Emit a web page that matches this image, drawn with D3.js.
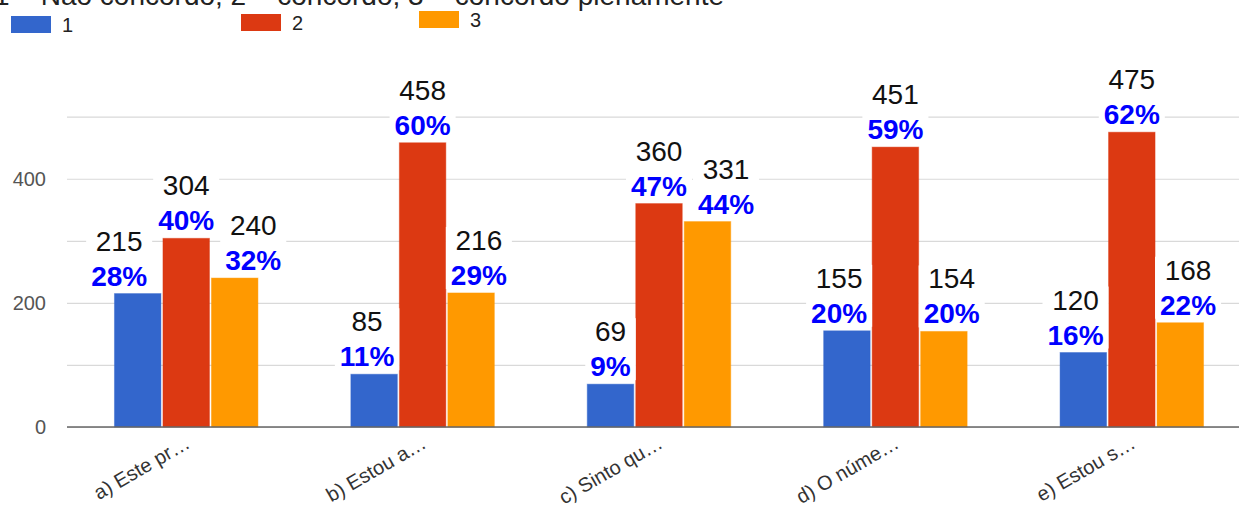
<!DOCTYPE html>
<html><head><meta charset="utf-8">
<script src="https://cdn.jsdelivr.net/npm/d3@7"></script>
<style>
body{margin:0;background:#fff;overflow:hidden;}
svg{display:block;font-family:Arial,'Liberation Sans',sans-serif;}
</style>
</head><body>
<svg id="c" width="1239" height="506"></svg>
<script>
// ---- data ----
const categories = ["a) Este pr…", "b) Estou a…", "c) Sinto qu…", "d) O núme…", "e) Estou s…"];
const seriesNames = ["1", "2", "3"];
const series1 = [215, 85, 69, 155, 120];
const series2 = [304, 458, 360, 451, 475];
const series3 = [240, 216, 331, 154, 168];
const pct1 = ["28%", "11%", "9%", "20%", "16%"];
const pct2 = ["40%", "60%", "47%", "59%", "62%"];
const pct3 = ["32%", "29%", "44%", "20%", "22%"];
const yTickLabels = [0, 200, 400];
const gridTicks = [0, 100, 200, 300, 400, 500];
const colors = ["#3366cc", "#dc3912", "#ff9900"];
const titleText = "1 – Não concordo; 2 – concordo; 3 – concordo plenamente";

const values = [series1, series2, series3];
const pcts = [pct1, pct2, pct3];

// ---- layout ----
const plotLeft = 67, plotRight = 1250, baseY = 427, topY = 116.7;
const svg = d3.select("#c");

const x0 = d3.scaleBand().domain(categories).range([68, 1250]).paddingInner(0).paddingOuter(0);
const x1 = d3.scaleBand().domain(seriesNames).range([0, x0.bandwidth()]).paddingInner(0.0412).paddingOuter(0.958);
const y = d3.scaleLinear().domain([0, 500]).range([baseY, topY]);

// title (clipped at top like the reference)
svg.append("text").attr("x", -6).attr("y", 5).attr("font-size", 28).attr("fill", "#222").text(titleText);

// legend
const legendPos = [[11, 16], [241, 14], [419, 11]];
seriesNames.forEach((s, k) => {
  const g = svg.append("g").attr("transform", `translate(${legendPos[k][0]},${legendPos[k][1]})`);
  g.append("rect").attr("width", 40).attr("height", 17).attr("fill", colors[k]);
  g.append("text").attr("x", 51).attr("y", 16).attr("font-size", 20).attr("fill", "#222").text(s);
});

// gridlines
const grid = svg.append("g").attr("transform", `translate(${plotLeft},0)`)
  .call(d3.axisLeft(y).tickValues(gridTicks).tickSize(-(plotRight - plotLeft)).tickFormat(""));
grid.select(".domain").remove();
grid.selectAll("line").attr("stroke", "#d9d9d9").attr("stroke-width", 1.2);

// y tick labels
const yAxis = svg.append("g").attr("transform", `translate(${plotLeft},0)`)
  .call(d3.axisLeft(y).tickValues(yTickLabels).tickSize(0).tickPadding(21));
yAxis.select(".domain").remove();
yAxis.selectAll("text").attr("font-size", 20).attr("fill", "#555").attr("font-family", "Arial,'Liberation Sans',sans-serif");

// bars
const bars = svg.append("g");
categories.forEach((c, i) => {
  seriesNames.forEach((s, k) => {
    const v = values[k][i];
    bars.append("rect")
      .attr("x", x0(c) + x1(s)).attr("width", x1.bandwidth())
      .attr("y", y(v)).attr("height", y(0) - y(v))
      .attr("fill", colors[k]).attr("stroke", colors[k]).attr("stroke-opacity", 0.45).attr("stroke-width", 1);
  });
});

// baseline
svg.append("line").attr("x1", plotLeft).attr("x2", plotRight).attr("y1", y(0)).attr("y2", y(0))
  .attr("stroke", "#666").attr("stroke-width", 1.6);

// x axis labels
const xAxis = svg.append("g").attr("transform", `translate(0,${baseY})`)
  .call(d3.axisBottom(x0).tickSize(0).tickPadding(0));
xAxis.select(".domain").remove();
xAxis.selectAll("text")
  .attr("font-size", 20).attr("fill", "#333").attr("font-family", "Arial,'Liberation Sans',sans-serif")
  .attr("text-anchor", "end").attr("dy", 0).attr("y", 0)
  .attr("transform", "translate(5,20) rotate(-30)");

// annotations with simple collision avoidance
const labelLayer = svg.append("g");
const pctGap = 8, lineGap = 35, numAscent = 21, barMargin = 5, labelMargin = 11, padX = 5;
categories.forEach((c, i) => {
  const items = seriesNames.map((s, k) => ({
    k, v: values[k][i], x: x0(c) + x1(s), w: x1.bandwidth(), top: y(values[k][i])
  }));
  const order = items.slice().sort((a, b) => b.v - a.v);
  const placed = [];
  order.forEach(it => {
    const g = labelLayer.append("g");
    const pb = it.top - pctGap, nb = pb - lineGap;
    const box = g.append("rect").attr("fill", "#fff");
    const tNum = g.append("text").attr("font-size", 28).attr("fill", "#111").attr("text-anchor", "middle")
      .attr("y", nb).text(values[it.k][i]);
    const tPct = g.append("text").attr("font-size", 28).attr("font-weight", "bold").attr("fill", "#0000ff")
      .attr("text-anchor", "middle").attr("y", pb).text(pcts[it.k][i]);
    const w = Math.max(tNum.node().getComputedTextLength(), tPct.node().getComputedTextLength());
    const by0 = nb - numAscent, by1 = pb + 2;
    const center = it.x + it.w / 2;
    let cx = center;
    const obstacles = items.filter(o => o !== it).map(o => ({ x0: o.x, x1: o.x + o.w, y0: o.top, y1: baseY, m: barMargin }))
      .concat(placed.map(p => ({ x0: p.x0, x1: p.x1, y0: p.y0, y1: p.y1, m: labelMargin })));
    for (let iter = 0; iter < 4; iter++) {
      obstacles.forEach(o => {
        const vOver = by0 < o.y1 && by1 > o.y0;
        const l = cx - w / 2, r = cx + w / 2;
        const hOver = l < o.x1 + o.m && r > o.x0 - o.m;
        if (vOver && hOver) {
          if ((o.x0 + o.x1) / 2 > center) cx = o.x0 - o.m - w / 2;
          else cx = o.x1 + o.m + w / 2;
        }
      });
    }
    tNum.attr("x", cx); tPct.attr("x", cx);
    box.attr("x", cx - w / 2 - padX).attr("width", w + 2 * padX).attr("y", by0 - 2).attr("height", by1 - by0 + 4);
    placed.push({ x0: cx - w / 2, x1: cx + w / 2, y0: by0, y1: by1 });
  });
});
</script>
</body></html>
